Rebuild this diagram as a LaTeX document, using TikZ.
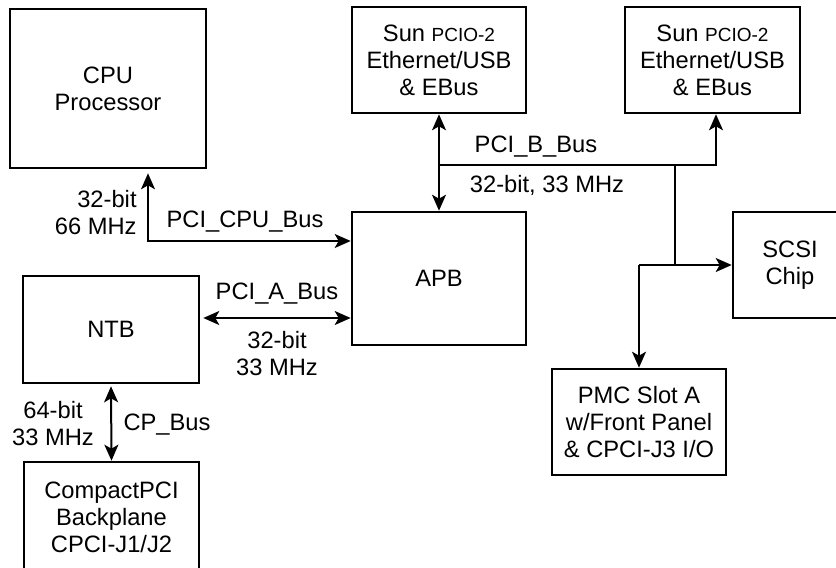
\documentclass[tikz,border=0pt]{standalone}
\usepackage{fontspec}
\setmainfont{Liberation Sans}
\usetikzlibrary{arrows.meta,calc,positioning}
\tikzstyle{block}=[draw, line width=1.3pt, inner sep=0pt,
                   align=center, minimum width=87pt,
                   minimum height=53pt]
\tikzstyle{edge} =[line width=1pt,
                   >={Stealth[length=8pt,width=7pt,inset=2pt]}]
\tikzstyle{lbl}  =[inner sep=0pt, align=center]
\newcommand{\pcioname}{{\fontsize{9.5}{13.5}\selectfont PCIO-2}}

\begin{document}
\begin{tikzpicture}[x=0.5pt,y=-0.5pt,font=\fontsize{11.85}{13.5}\selectfont]
\clip (0,0) rectangle (836,568);

%%%%%%%%%%%%%%%%%%%%%%%%%%%%%%%%%%%%%%%%%%%%%%%%
%%%%%%%%%%           Blocks           %%%%%%%%%%
%%%%%%%%%%%%%%%%%%%%%%%%%%%%%%%%%%%%%%%%%%%%%%%%
\node (cpu)  [block,minimum width=98pt,minimum height=79.5pt] at (108,88.5){CPU\\Processor};
\node (sun1) [block] at (439,60){Sun \pcioname\\Ethernet/USB\\\& EBus};
\node (sun2) [block,minimum width=87.5pt] at (712.5,60){Sun \pcioname\\Ethernet/USB\\\& EBus};
\node (apb)  [block,minimum height=66.5pt] at (439,278.5){APB};
\node (ntb)  [block,minimum width=88pt,minimum height=53.5pt] at (111,329.5){NTB};
\node (cpci) [block,minimum width=87.5pt,minimum height=55pt] at (111.5,517){CompactPCI\\Backplane\\CPCI-J1/J2};
\node (scsi) [block,minimum width=57pt] at (790,265){SCSI\\Chip};
\node (pmc)  [block] at (639,422){PMC Slot A\\w/Front Panel\\\& CPCI-J3 I/O};

%%%%%%%%%%%%%%%%%%%%%%%%%%%%%%%%%%%%%%%%%%%%%%%%
%%%%%%%%%%           Buses            %%%%%%%%%%
%%%%%%%%%%%%%%%%%%%%%%%%%%%%%%%%%%%%%%%%%%%%%%%%
% PCI_CPU_Bus
\draw [edge,<->] ([xshift=20pt,yshift=-2pt]cpu.south) |- ([yshift=18.75pt]apb.west);
% PCI_A_Bus
\coordinate (apbA) at ([yshift=-19.75pt]apb.west);
\draw [edge,<->] ([xshift=1.5pt]ntb.east |- apbA) -- (apbA);
% CP_Bus
\draw [edge,<->] ([yshift=-1pt]ntb.south) -- (cpci.north);
% PCI_B_Bus
\draw [edge,<->] (sun1.south) -- (apb.north);
\coordinate (busB) at (438,165);
\coordinate (tapB) at (675,165);
\draw [edge,->] (busB) -| ([xshift=1.75pt]sun2.south);
\draw [edge] (tapB) -- (tapB |- scsi.west);
\coordinate (split) at (pmc.north |- scsi.west);
\draw [edge] (split) -- (tapB |- scsi.west);
\draw [edge,->] (split) -- (scsi.west);
\draw [edge,->] (split) -- (pmc.north);

%%%%%%%%%%%%%%%%%%%%%%%%%%%%%%%%%%%%%%%%%%%%%%%%
%%%%%%%%%%           Labels           %%%%%%%%%%
%%%%%%%%%%%%%%%%%%%%%%%%%%%%%%%%%%%%%%%%%%%%%%%%
\node (cpuw)  [lbl,align=right,anchor=east] at (137,213){32-bit\\66 MHz};
\node (cpun)  [lbl] at (245,222){PCI\_CPU\_Bus};
\node (pcian) [lbl] at (277,294){PCI\_A\_Bus};
\node (pciaw) [lbl] at (277,354){32-bit\\33 MHz};
\node (cpw)   [lbl] at (53,424){64-bit\\33 MHz};
\node (cpn)   [lbl] at (167,425){CP\_Bus};
\node (pcibn) [lbl] at (536,147){PCI\_B\_Bus};
\node (pcibw) [lbl] at (547,185){32-bit, 33 MHz};

\end{tikzpicture}
\end{document}
